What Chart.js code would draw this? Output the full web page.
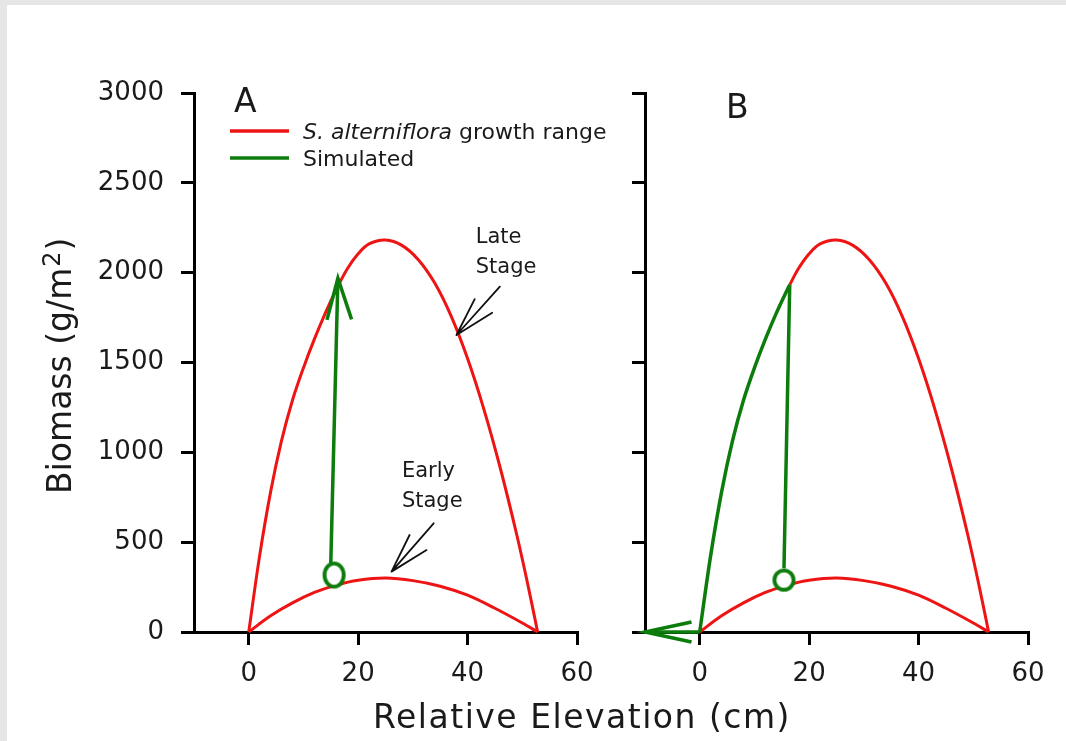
<!doctype html>
<html lang="en">
<head>
<meta charset="UTF-8">
<title>S. alterniflora biomass vs relative elevation</title>
<script src="https://cdn.jsdelivr.net/npm/chart.js@4.4.1/dist/chart.umd.min.js"></script>
<style>
	html, body { margin: 0; padding: 0; background: #e6e6e6; overflow: hidden; }
	#frame { position: absolute; left: 7px; top: 5px; width: 1059px; height: 736px; background: #fff; }
	canvas { position: absolute; left: 0; top: 0; }
</style>
</head>
<body>
<div id="frame"></div>
<canvas id="chartA" width="1066" height="741"></canvas>
<canvas id="chartB" width="1066" height="741"></canvas>
<script>
// axis ticks
const xTicks = [0, 20, 40, 60];
const yTicks = [0, 500, 1000, 1500, 2000, 2500, 3000];

// growth range curves
const lateX = [0, 2, 4, 6, 8, 10, 12, 14, 16, 18, 20, 22, 25, 28, 31, 34, 37, 40, 43, 46, 49, 51, 52.8];
const lateY = [0, 425, 780, 1065, 1290, 1470, 1630, 1775, 1905, 2020, 2105, 2160, 2182, 2152, 2072, 1942, 1758, 1522, 1238, 910, 540, 266, 0];
const earlyX = [0, 4, 8, 12, 16, 20, 25, 30, 35, 40, 45, 50, 52.8];
const earlyY = [0, 90, 162, 220, 261, 288, 300, 286, 255, 205, 132, 50, 0];

// panel A simulated path
const simAStartX = [15.6];
const simAStartY = [317];
const simAX = [15.0, 16.3];
const simAY = [382, 1969];
const simAHeadX = [14.3, 16.3, 18.8];
const simAHeadY = [1737, 1969, 1740];

// panel B: late curve right of the junction, simulated path
const lateBX = [16.45, 18, 20, 22, 25, 28, 31, 34, 37, 40, 43, 46, 49, 51, 52.8];
const lateBY = [1932, 2020, 2105, 2160, 2182, 2152, 2072, 1942, 1758, 1522, 1238, 910, 540, 266, 0];
const simBStartX = [15.4];
const simBStartY = [289];
const simBUpX = [15.4, 16.45];
const simBUpY = [354, 1932];
const simBDownX = [0, 2, 4, 6, 8, 10, 12, 14, 16, 16.45];
const simBDownY = [0, 425, 780, 1065, 1290, 1470, 1630, 1775, 1905, 1932];
const simBBackX = [0, -10];
const simBBackY = [0, 0];
const simBHeadX = [-1.5, -10, -1.5];
const simBHeadY = [56, 0, -56];

const RED = '#ee1414';
const GREEN = '#0c7c0c';
const INK = '#1a1a1a';
const FONT = '"DejaVu Sans", sans-serif';

Chart.defaults.font.family = FONT;

function pts(xs, ys) {
	return xs.map((x, i) => ({ x: x, y: ys[i] }));
}

function ring(w, h) {
	const c = document.createElement('canvas');
	c.width = w + 2;
	c.height = h + 2;
	const g = c.getContext('2d');
	g.lineWidth = 3.8;
	g.strokeStyle = GREEN;
	g.fillStyle = '#fff';
	g.beginPath();
	g.ellipse(c.width / 2, c.height / 2, (w - 3.8) / 2, (h - 3.8) / 2, 0, 0, Math.PI * 2);
	g.fill();
	g.stroke();
	return c;
}

function curve(xs, ys, color, width, smooth) {
	return {
		data: pts(xs, ys),
		showLine: true,
		borderColor: color,
		borderWidth: width,
		pointRadius: 0,
		tension: smooth ? 0.35 : 0,
		clip: false,
	};
}

function marker(xs, ys, img) {
	return {
		data: pts(xs, ys),
		showLine: false,
		pointStyle: img,
		pointRadius: 12,
		clip: false,
	};
}

function scales(yLeft, showYLabels) {
	return {
		x: {
			type: 'linear',
			min: -10,
			max: 60,
			afterBuildTicks: (s) => { s.ticks = xTicks.map((v) => ({ value: v })); },
			afterFit: (s) => { s.height = 741 - 632; },
			border: { display: true, color: '#000', width: 3 },
			grid: { drawOnChartArea: false, color: '#000', lineWidth: 3, tickLength: 13 },
			ticks: { color: INK, font: { size: 26 }, padding: 14, maxRotation: 0 },
		},
		y: {
			type: 'linear',
			min: 0,
			max: 3000,
			afterBuildTicks: (s) => { s.ticks = yTicks.map((v) => ({ value: v })); },
			afterFit: (s) => { s.width = yLeft; },
			border: { display: true, color: '#000', width: 3 },
			grid: { drawOnChartArea: false, color: '#000', lineWidth: 3, tickLength: 13 },
			ticks: {
				color: INK,
				font: { size: 26 },
				padding: 17,
				callback: (v) => showYLabels ? String(v) : '',
			},
		},
	};
}

function arrow(ctx, s, from, tip, barbs, color, width) {
	const X = (v) => s.x.getPixelForValue(v);
	const Y = (v) => s.y.getPixelForValue(v);
	ctx.save();
	ctx.strokeStyle = color;
	ctx.lineWidth = width;
	ctx.lineCap = 'round';
	ctx.beginPath();
	ctx.moveTo(X(from[0]), Y(from[1]));
	ctx.lineTo(X(tip[0]), Y(tip[1]));
	barbs.forEach((b) => {
		ctx.moveTo(X(b[0]), Y(b[1]));
		ctx.lineTo(X(tip[0]), Y(tip[1]));
	});
	ctx.stroke();
	ctx.restore();
}

function label(ctx, s, lines, x, ys) {
	ctx.save();
	ctx.fillStyle = INK;
	ctx.font = '21px ' + FONT;
	ctx.textAlign = 'left';
	ctx.textBaseline = 'middle';
	lines.forEach((t, i) => ctx.fillText(t, s.x.getPixelForValue(x), s.y.getPixelForValue(ys[i])));
	ctx.restore();
}

const panelA = {
	id: 'panelA',
	afterDraw(chart) {
		const ctx = chart.ctx;
		const a = chart.chartArea;
		const s = chart.scales;

		ctx.save();
		ctx.fillStyle = INK;
		ctx.textBaseline = 'alphabetic';
		ctx.font = '33px ' + FONT;
		ctx.fillText('A', a.left + 40, a.top + 19);

		// legend
		ctx.lineWidth = 3.5;
		ctx.strokeStyle = RED;
		ctx.beginPath();
		ctx.moveTo(a.left + 36, a.top + 38);
		ctx.lineTo(a.left + 95, a.top + 38);
		ctx.stroke();
		ctx.strokeStyle = GREEN;
		ctx.beginPath();
		ctx.moveTo(a.left + 36, a.top + 65);
		ctx.lineTo(a.left + 95, a.top + 65);
		ctx.stroke();

		let tx = a.left + 109;
		ctx.font = 'italic 22px ' + FONT;
		ctx.fillText('S. alterniflora', tx, a.top + 46);
		tx += ctx.measureText('S. alterniflora').width;
		ctx.font = '22px ' + FONT;
		ctx.fillText(' growth range', tx, a.top + 46);
		ctx.fillText('Simulated', a.left + 109, a.top + 73);

		// y title with superscript
		ctx.translate(71, 494);
		ctx.rotate(-Math.PI / 2);
		ctx.font = '33px ' + FONT;
		ctx.fillText('Biomass (g/m', 0, 0);
		let w = ctx.measureText('Biomass (g/m').width;
		ctx.font = '24px ' + FONT;
		ctx.fillText('2', w + 1, -11);
		w += ctx.measureText('2').width + 2;
		ctx.font = '33px ' + FONT;
		ctx.fillText(')', w, 0);
		ctx.restore();

		// x title, shared by both panels
		ctx.save();
		ctx.fillStyle = INK;
		ctx.font = '33px ' + FONT;
		ctx.letterSpacing = '1.5px';
		ctx.textAlign = 'center';
		ctx.textBaseline = 'alphabetic';
		ctx.fillText('Relative Elevation (cm)', 582, 728);
		ctx.restore();

		// stage annotations
		label(ctx, s, ['Late', 'Stage'], 41.5, [2198, 2026]);
		arrow(ctx, s, [45.9, 1922], [37.97, 1653], [[41.3, 1853], [44.5, 1777]], '#111', 1.8);
		label(ctx, s, ['Early', 'Stage'], 28.0, [891, 724]);
		arrow(ctx, s, [33.8, 605], [26.1, 336], [[29.4, 540], [32.5, 456]], '#111', 1.8);
	},
};

const panelB = {
	id: 'panelB',
	afterDraw(chart) {
		const ctx = chart.ctx;
		const a = chart.chartArea;
		ctx.save();
		ctx.fillStyle = INK;
		ctx.textBaseline = 'alphabetic';
		ctx.font = '33px ' + FONT;
		ctx.fillText('B', a.left + 81, a.top + 25);
		ctx.restore();
	},
};

new Chart(document.getElementById('chartA'), {
	type: 'scatter',
	data: {
		datasets: [
			marker(simAStartX, simAStartY, ring(23, 27)),
			curve(simAHeadX, simAHeadY, GREEN, 3.5, false),
			curve(simAX, simAY, GREEN, 3.5, false),
			curve(lateX, lateY, RED, 3, true),
			curve(earlyX, earlyY, RED, 3, true),
		],
	},
	options: {
		responsive: false,
		animation: false,
		devicePixelRatio: 1,
		events: [],
		layout: { padding: { left: 0, top: 93, right: 1066 - 577, bottom: 0 } },
		plugins: { legend: { display: false }, tooltip: { enabled: false } },
		scales: scales(194, true),
	},
	plugins: [panelA],
});

new Chart(document.getElementById('chartB'), {
	type: 'scatter',
	data: {
		datasets: [
			marker(simBStartX, simBStartY, ring(23, 23)),
			curve(simBHeadX, simBHeadY, GREEN, 3.5, false),
			curve(simBBackX, simBBackY, GREEN, 3.5, false),
			curve(simBUpX, simBUpY, GREEN, 3.5, false),
			curve(simBDownX, simBDownY, GREEN, 3.5, true),
			curve(lateBX, lateBY, RED, 3, true),
			curve(earlyX, earlyY, RED, 3, true),
		],
	},
	options: {
		responsive: false,
		animation: false,
		devicePixelRatio: 1,
		events: [],
		layout: { padding: { left: 0, top: 93, right: 1066 - 1028, bottom: 0 } },
		plugins: { legend: { display: false }, tooltip: { enabled: false } },
		scales: scales(645, false),
	},
	plugins: [panelB],
});
</script>
</body>
</html>
